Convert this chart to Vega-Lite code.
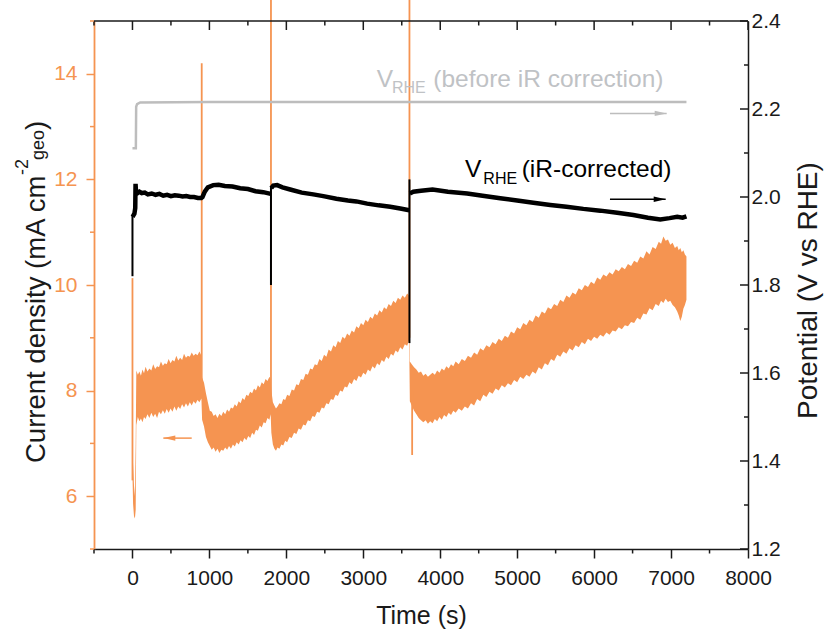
{
  "$schema": "https://vega.github.io/schema/vega-lite/v6.json",
  "width": 654,
  "height": 528,
  "autosize": {"type": "none"},
  "padding": {"left": 94, "top": 21, "right": 79, "bottom": 81},
  "config": {
    "view": {"stroke": null},
    "font": "Liberation Sans",
    "axis": {"grid": false, "labelFont": "Liberation Sans", "titleFont": "Liberation Sans", "titleFontWeight": "normal", "domainWidth": 1.5, "tickWidth": 1.5, "labelFlush": false, "labelOverlap": false, "labelBound": false}
  },
  "datasets": {
    "current": [
      {"t": 0, "lo": 6.4, "hi": 6.9}, {"t": 8, "lo": 5.85, "hi": 6.6}, {"t": 20, "lo": 5.62, "hi": 6.2},
      {"t": 32, "lo": 5.58, "hi": 6.0}, {"t": 42, "lo": 5.75, "hi": 7.0}, {"t": 50, "lo": 7.35, "hi": 8.38},
      {"t": 70, "lo": 7.5, "hi": 8.3}, {"t": 90, "lo": 7.42, "hi": 8.36}, {"t": 110, "lo": 7.47, "hi": 8.28},
      {"t": 130, "lo": 7.4, "hi": 8.4}, {"t": 150, "lo": 7.5, "hi": 8.33}, {"t": 170, "lo": 7.46, "hi": 8.45},
      {"t": 195, "lo": 7.55, "hi": 8.36}, {"t": 220, "lo": 7.48, "hi": 8.42}, {"t": 245, "lo": 7.58, "hi": 8.38},
      {"t": 270, "lo": 7.5, "hi": 8.5}, {"t": 295, "lo": 7.56, "hi": 8.41}, {"t": 320, "lo": 7.48, "hi": 8.46},
      {"t": 345, "lo": 7.6, "hi": 8.44}, {"t": 370, "lo": 7.55, "hi": 8.55}, {"t": 395, "lo": 7.63, "hi": 8.47},
      {"t": 420, "lo": 7.56, "hi": 8.52}, {"t": 445, "lo": 7.65, "hi": 8.5}, {"t": 470, "lo": 7.58, "hi": 8.6},
      {"t": 495, "lo": 7.66, "hi": 8.52}, {"t": 520, "lo": 7.6, "hi": 8.58}, {"t": 545, "lo": 7.7, "hi": 8.55},
      {"t": 570, "lo": 7.62, "hi": 8.66}, {"t": 595, "lo": 7.7, "hi": 8.57}, {"t": 620, "lo": 7.65, "hi": 8.62},
      {"t": 645, "lo": 7.74, "hi": 8.58}, {"t": 670, "lo": 7.68, "hi": 8.7}, {"t": 695, "lo": 7.76, "hi": 8.62},
      {"t": 720, "lo": 7.7, "hi": 8.66}, {"t": 745, "lo": 7.78, "hi": 8.64}, {"t": 770, "lo": 7.72, "hi": 8.72},
      {"t": 795, "lo": 7.8, "hi": 8.66}, {"t": 820, "lo": 7.75, "hi": 8.7}, {"t": 845, "lo": 7.82, "hi": 8.67},
      {"t": 870, "lo": 7.78, "hi": 8.74}, {"t": 896, "lo": 7.85, "hi": 8.66},
      {"t": 905, "lo": 7.45, "hi": 8.25}, {"t": 930, "lo": 7.32, "hi": 8.15}, {"t": 955, "lo": 7.12, "hi": 7.95},
      {"t": 980, "lo": 7.02, "hi": 7.78}, {"t": 1005, "lo": 6.95, "hi": 7.62}, {"t": 1030, "lo": 6.88, "hi": 7.6},
      {"t": 1055, "lo": 6.92, "hi": 7.52}, {"t": 1080, "lo": 6.84, "hi": 7.55}, {"t": 1105, "lo": 6.9, "hi": 7.48},
      {"t": 1130, "lo": 6.82, "hi": 7.56}, {"t": 1155, "lo": 6.88, "hi": 7.52}, {"t": 1180, "lo": 6.86, "hi": 7.6},
      {"t": 1205, "lo": 6.92, "hi": 7.55}, {"t": 1230, "lo": 6.88, "hi": 7.64}, {"t": 1255, "lo": 6.95, "hi": 7.6},
      {"t": 1280, "lo": 6.9, "hi": 7.68}, {"t": 1305, "lo": 6.98, "hi": 7.66}, {"t": 1330, "lo": 6.94, "hi": 7.74},
      {"t": 1355, "lo": 7.02, "hi": 7.7}, {"t": 1380, "lo": 6.98, "hi": 7.8}, {"t": 1405, "lo": 7.06, "hi": 7.76},
      {"t": 1430, "lo": 7.02, "hi": 7.86}, {"t": 1455, "lo": 7.1, "hi": 7.82}, {"t": 1480, "lo": 7.06, "hi": 7.92},
      {"t": 1505, "lo": 7.14, "hi": 7.9}, {"t": 1530, "lo": 7.1, "hi": 7.98}, {"t": 1555, "lo": 7.2, "hi": 7.95},
      {"t": 1580, "lo": 7.16, "hi": 8.04}, {"t": 1605, "lo": 7.26, "hi": 8.0}, {"t": 1630, "lo": 7.24, "hi": 8.1},
      {"t": 1655, "lo": 7.34, "hi": 8.06}, {"t": 1680, "lo": 7.3, "hi": 8.16}, {"t": 1705, "lo": 7.4, "hi": 8.12},
      {"t": 1730, "lo": 7.38, "hi": 8.22}, {"t": 1755, "lo": 7.48, "hi": 8.18}, {"t": 1780, "lo": 7.45, "hi": 8.26},
      {"t": 1796, "lo": 7.55, "hi": 8.22},
      {"t": 1805, "lo": 7.2, "hi": 8.0}, {"t": 1825, "lo": 6.98, "hi": 7.78}, {"t": 1845, "lo": 6.9, "hi": 7.72},
      {"t": 1865, "lo": 6.86, "hi": 7.66}, {"t": 1885, "lo": 6.92, "hi": 7.7}, {"t": 1910, "lo": 6.9, "hi": 7.76},
      {"t": 1935, "lo": 6.98, "hi": 7.74}, {"t": 1960, "lo": 6.96, "hi": 7.84}, {"t": 1985, "lo": 7.05, "hi": 7.82},
      {"t": 2010, "lo": 7.02, "hi": 7.92}, {"t": 2040, "lo": 7.12, "hi": 7.9}, {"t": 2070, "lo": 7.1, "hi": 8.02},
      {"t": 2100, "lo": 7.2, "hi": 8.0}, {"t": 2130, "lo": 7.18, "hi": 8.12}, {"t": 2160, "lo": 7.28, "hi": 8.1},
      {"t": 2190, "lo": 7.26, "hi": 8.22}, {"t": 2220, "lo": 7.36, "hi": 8.2}, {"t": 2250, "lo": 7.34, "hi": 8.32},
      {"t": 2280, "lo": 7.44, "hi": 8.3}, {"t": 2310, "lo": 7.42, "hi": 8.42}, {"t": 2340, "lo": 7.52, "hi": 8.4},
      {"t": 2370, "lo": 7.5, "hi": 8.5}, {"t": 2400, "lo": 7.6, "hi": 8.48}, {"t": 2430, "lo": 7.58, "hi": 8.6},
      {"t": 2460, "lo": 7.68, "hi": 8.56}, {"t": 2490, "lo": 7.66, "hi": 8.68}, {"t": 2520, "lo": 7.76, "hi": 8.64},
      {"t": 2550, "lo": 7.74, "hi": 8.78}, {"t": 2580, "lo": 7.84, "hi": 8.74}, {"t": 2610, "lo": 7.82, "hi": 8.86},
      {"t": 2640, "lo": 7.92, "hi": 8.82}, {"t": 2670, "lo": 7.9, "hi": 8.94}, {"t": 2700, "lo": 8.0, "hi": 8.9},
      {"t": 2730, "lo": 7.98, "hi": 9.02}, {"t": 2760, "lo": 8.08, "hi": 8.98}, {"t": 2790, "lo": 8.06, "hi": 9.08},
      {"t": 2820, "lo": 8.16, "hi": 9.04}, {"t": 2850, "lo": 8.12, "hi": 9.14}, {"t": 2880, "lo": 8.22, "hi": 9.1},
      {"t": 2910, "lo": 8.18, "hi": 9.22}, {"t": 2940, "lo": 8.28, "hi": 9.18}, {"t": 2970, "lo": 8.25, "hi": 9.28},
      {"t": 3000, "lo": 8.34, "hi": 9.24}, {"t": 3030, "lo": 8.3, "hi": 9.34}, {"t": 3060, "lo": 8.4, "hi": 9.3},
      {"t": 3090, "lo": 8.36, "hi": 9.4}, {"t": 3120, "lo": 8.46, "hi": 9.36}, {"t": 3150, "lo": 8.42, "hi": 9.46},
      {"t": 3180, "lo": 8.52, "hi": 9.42}, {"t": 3210, "lo": 8.48, "hi": 9.52}, {"t": 3240, "lo": 8.58, "hi": 9.48},
      {"t": 3270, "lo": 8.54, "hi": 9.58}, {"t": 3300, "lo": 8.64, "hi": 9.54}, {"t": 3330, "lo": 8.6, "hi": 9.64},
      {"t": 3360, "lo": 8.7, "hi": 9.6}, {"t": 3390, "lo": 8.66, "hi": 9.7}, {"t": 3420, "lo": 8.76, "hi": 9.66},
      {"t": 3450, "lo": 8.72, "hi": 9.76}, {"t": 3480, "lo": 8.82, "hi": 9.72}, {"t": 3510, "lo": 8.78, "hi": 9.8},
      {"t": 3540, "lo": 8.88, "hi": 9.76}, {"t": 3570, "lo": 8.85, "hi": 9.84}, {"t": 3596, "lo": 8.95, "hi": 9.8},
      {"t": 3605, "lo": 7.8, "hi": 8.55}, {"t": 3630, "lo": 7.72, "hi": 8.5}, {"t": 3660, "lo": 7.62, "hi": 8.44},
      {"t": 3690, "lo": 7.55, "hi": 8.4}, {"t": 3720, "lo": 7.48, "hi": 8.34}, {"t": 3750, "lo": 7.44, "hi": 8.36},
      {"t": 3780, "lo": 7.4, "hi": 8.28}, {"t": 3810, "lo": 7.44, "hi": 8.32}, {"t": 3840, "lo": 7.37, "hi": 8.26},
      {"t": 3870, "lo": 7.42, "hi": 8.3}, {"t": 3900, "lo": 7.38, "hi": 8.34}, {"t": 3930, "lo": 7.46, "hi": 8.3},
      {"t": 3960, "lo": 7.42, "hi": 8.38}, {"t": 3990, "lo": 7.5, "hi": 8.34}, {"t": 4020, "lo": 7.45, "hi": 8.42},
      {"t": 4050, "lo": 7.54, "hi": 8.38}, {"t": 4080, "lo": 7.5, "hi": 8.46}, {"t": 4110, "lo": 7.58, "hi": 8.42},
      {"t": 4140, "lo": 7.54, "hi": 8.5}, {"t": 4170, "lo": 7.62, "hi": 8.46}, {"t": 4200, "lo": 7.58, "hi": 8.55},
      {"t": 4240, "lo": 7.66, "hi": 8.5}, {"t": 4280, "lo": 7.62, "hi": 8.6}, {"t": 4320, "lo": 7.7, "hi": 8.56},
      {"t": 4360, "lo": 7.66, "hi": 8.66}, {"t": 4400, "lo": 7.76, "hi": 8.62}, {"t": 4440, "lo": 7.72, "hi": 8.72},
      {"t": 4480, "lo": 7.84, "hi": 8.68}, {"t": 4520, "lo": 7.8, "hi": 8.8}, {"t": 4560, "lo": 7.92, "hi": 8.76},
      {"t": 4600, "lo": 7.88, "hi": 8.86}, {"t": 4640, "lo": 7.98, "hi": 8.82}, {"t": 4680, "lo": 7.94, "hi": 8.92},
      {"t": 4720, "lo": 8.04, "hi": 8.88}, {"t": 4760, "lo": 8.0, "hi": 8.98}, {"t": 4800, "lo": 8.1, "hi": 8.94},
      {"t": 4840, "lo": 8.06, "hi": 9.04}, {"t": 4880, "lo": 8.14, "hi": 9.0}, {"t": 4920, "lo": 8.1, "hi": 9.12},
      {"t": 4960, "lo": 8.2, "hi": 9.08}, {"t": 5000, "lo": 8.16, "hi": 9.2}, {"t": 5040, "lo": 8.26, "hi": 9.16},
      {"t": 5080, "lo": 8.22, "hi": 9.28}, {"t": 5120, "lo": 8.3, "hi": 9.24}, {"t": 5160, "lo": 8.26, "hi": 9.34},
      {"t": 5200, "lo": 8.36, "hi": 9.3}, {"t": 5240, "lo": 8.32, "hi": 9.42}, {"t": 5280, "lo": 8.44, "hi": 9.38},
      {"t": 5320, "lo": 8.4, "hi": 9.5}, {"t": 5360, "lo": 8.52, "hi": 9.46}, {"t": 5400, "lo": 8.48, "hi": 9.58},
      {"t": 5440, "lo": 8.6, "hi": 9.54}, {"t": 5480, "lo": 8.56, "hi": 9.64}, {"t": 5520, "lo": 8.68, "hi": 9.6},
      {"t": 5560, "lo": 8.64, "hi": 9.72}, {"t": 5600, "lo": 8.74, "hi": 9.68}, {"t": 5640, "lo": 8.7, "hi": 9.8},
      {"t": 5680, "lo": 8.8, "hi": 9.76}, {"t": 5720, "lo": 8.76, "hi": 9.86}, {"t": 5760, "lo": 8.86, "hi": 9.82},
      {"t": 5800, "lo": 8.82, "hi": 9.94}, {"t": 5840, "lo": 8.92, "hi": 9.9}, {"t": 5880, "lo": 8.88, "hi": 10.0},
      {"t": 5920, "lo": 8.98, "hi": 9.96}, {"t": 5960, "lo": 8.94, "hi": 10.06}, {"t": 6000, "lo": 9.02, "hi": 10.02},
      {"t": 6040, "lo": 8.98, "hi": 10.14}, {"t": 6080, "lo": 9.06, "hi": 10.1}, {"t": 6120, "lo": 9.02, "hi": 10.2},
      {"t": 6160, "lo": 9.1, "hi": 10.16}, {"t": 6200, "lo": 9.06, "hi": 10.24}, {"t": 6240, "lo": 9.14, "hi": 10.2},
      {"t": 6280, "lo": 9.12, "hi": 10.3}, {"t": 6320, "lo": 9.2, "hi": 10.26}, {"t": 6360, "lo": 9.16, "hi": 10.34},
      {"t": 6400, "lo": 9.24, "hi": 10.3}, {"t": 6440, "lo": 9.22, "hi": 10.4}, {"t": 6480, "lo": 9.3, "hi": 10.36},
      {"t": 6520, "lo": 9.28, "hi": 10.46}, {"t": 6560, "lo": 9.38, "hi": 10.42}, {"t": 6600, "lo": 9.34, "hi": 10.54},
      {"t": 6640, "lo": 9.46, "hi": 10.5}, {"t": 6680, "lo": 9.44, "hi": 10.64}, {"t": 6720, "lo": 9.56, "hi": 10.58},
      {"t": 6760, "lo": 9.52, "hi": 10.72}, {"t": 6800, "lo": 9.64, "hi": 10.68}, {"t": 6840, "lo": 9.6, "hi": 10.82},
      {"t": 6870, "lo": 9.7, "hi": 10.78}, {"t": 6900, "lo": 9.66, "hi": 10.92}, {"t": 6930, "lo": 9.74, "hi": 10.84},
      {"t": 6960, "lo": 9.68, "hi": 10.86}, {"t": 6990, "lo": 9.7, "hi": 10.76}, {"t": 7020, "lo": 9.62, "hi": 10.8},
      {"t": 7050, "lo": 9.58, "hi": 10.7}, {"t": 7080, "lo": 9.5, "hi": 10.74}, {"t": 7100, "lo": 9.42, "hi": 10.66},
      {"t": 7120, "lo": 9.32, "hi": 10.7}, {"t": 7140, "lo": 9.4, "hi": 10.62}, {"t": 7160, "lo": 9.55, "hi": 10.66},
      {"t": 7180, "lo": 9.62, "hi": 10.58}, {"t": 7200, "lo": 9.72, "hi": 10.54}
    ],
    "spikes": [
      {"t": 0, "lo": 6.3, "hi": 10.13},
      {"t": 900, "lo": 8.0, "hi": 14.2},
      {"t": 1800, "lo": 7.8, "hi": 15.4},
      {"t": 3600, "lo": 9.0, "hi": 15.4},
      {"t": 3635, "lo": 6.78, "hi": 8.0}
    ],
    "corrected": [
      {"seg": 1, "t": 2, "v": 1.955}, {"seg": 1, "t": 12, "v": 1.958}, {"seg": 1, "t": 25, "v": 1.962},
      {"seg": 1, "t": 36, "v": 1.975}, {"seg": 1, "t": 40, "v": 2.03}, {"seg": 1, "t": 46, "v": 2.012},
      {"seg": 1, "t": 60, "v": 2.008}, {"seg": 1, "t": 90, "v": 2.012}, {"seg": 1, "t": 120, "v": 2.009},
      {"seg": 1, "t": 160, "v": 2.01}, {"seg": 1, "t": 200, "v": 2.006}, {"seg": 1, "t": 250, "v": 2.008},
      {"seg": 1, "t": 300, "v": 2.005}, {"seg": 1, "t": 350, "v": 2.007}, {"seg": 1, "t": 400, "v": 2.003},
      {"seg": 1, "t": 450, "v": 2.005}, {"seg": 1, "t": 500, "v": 2.002}, {"seg": 1, "t": 550, "v": 2.004},
      {"seg": 1, "t": 600, "v": 2.003}, {"seg": 1, "t": 650, "v": 2.001}, {"seg": 1, "t": 700, "v": 2.002},
      {"seg": 1, "t": 750, "v": 2.0}, {"seg": 1, "t": 800, "v": 2.0}, {"seg": 1, "t": 850, "v": 1.998},
      {"seg": 1, "t": 895, "v": 1.998}, {"seg": 1, "t": 910, "v": 2.0}, {"seg": 1, "t": 940, "v": 2.012},
      {"seg": 1, "t": 980, "v": 2.022}, {"seg": 1, "t": 1050, "v": 2.027}, {"seg": 1, "t": 1120, "v": 2.028},
      {"seg": 1, "t": 1200, "v": 2.025}, {"seg": 1, "t": 1300, "v": 2.024}, {"seg": 1, "t": 1400, "v": 2.02},
      {"seg": 1, "t": 1500, "v": 2.018}, {"seg": 1, "t": 1600, "v": 2.013}, {"seg": 1, "t": 1700, "v": 2.011},
      {"seg": 1, "t": 1797, "v": 2.007},
      {"seg": 2, "t": 1803, "v": 2.02}, {"seg": 2, "t": 1830, "v": 2.026}, {"seg": 2, "t": 1880, "v": 2.027},
      {"seg": 2, "t": 1950, "v": 2.022}, {"seg": 2, "t": 2050, "v": 2.017}, {"seg": 2, "t": 2200, "v": 2.01},
      {"seg": 2, "t": 2350, "v": 2.006}, {"seg": 2, "t": 2480, "v": 2.002}, {"seg": 2, "t": 2650, "v": 1.996},
      {"seg": 2, "t": 2800, "v": 1.992}, {"seg": 2, "t": 2910, "v": 1.99}, {"seg": 2, "t": 3050, "v": 1.985},
      {"seg": 2, "t": 3200, "v": 1.981}, {"seg": 2, "t": 3350, "v": 1.978}, {"seg": 2, "t": 3480, "v": 1.974},
      {"seg": 2, "t": 3597, "v": 1.97},
      {"seg": 3, "t": 3604, "v": 2.008}, {"seg": 3, "t": 3650, "v": 2.012}, {"seg": 3, "t": 3750, "v": 2.014},
      {"seg": 3, "t": 3900, "v": 2.017}, {"seg": 3, "t": 4100, "v": 2.012}, {"seg": 3, "t": 4350, "v": 2.008},
      {"seg": 3, "t": 4550, "v": 2.003}, {"seg": 3, "t": 4780, "v": 1.997}, {"seg": 3, "t": 5000, "v": 1.992},
      {"seg": 3, "t": 5210, "v": 1.987}, {"seg": 3, "t": 5430, "v": 1.982}, {"seg": 3, "t": 5640, "v": 1.978},
      {"seg": 3, "t": 5860, "v": 1.973}, {"seg": 3, "t": 6080, "v": 1.969}, {"seg": 3, "t": 6300, "v": 1.964},
      {"seg": 3, "t": 6510, "v": 1.959}, {"seg": 3, "t": 6700, "v": 1.953}, {"seg": 3, "t": 6860, "v": 1.949},
      {"seg": 3, "t": 6980, "v": 1.952}, {"seg": 3, "t": 7080, "v": 1.955}, {"seg": 3, "t": 7150, "v": 1.953},
      {"seg": 3, "t": 7200, "v": 1.956}
    ],
    "blackSpikes": [
      {"t": 0, "lo": 1.82, "hi": 1.958},
      {"t": 1800, "lo": 1.8, "hi": 2.025},
      {"t": 3600, "lo": 1.668, "hi": 2.04}
    ],
    "raw": [
      {"t": 0, "v": 2.111}, {"t": 44, "v": 2.111}, {"t": 48, "v": 2.205}, {"t": 60, "v": 2.211},
      {"t": 100, "v": 2.215}, {"t": 1000, "v": 2.216}, {"t": 7200, "v": 2.216}
    ],
    "xMajor": [{"t": 0}, {"t": 1000}, {"t": 2000}, {"t": 3000}, {"t": 4000}, {"t": 5000}, {"t": 6000}, {"t": 7000}, {"t": 8000}],
    "xMinor": [{"t": -500}, {"t": 500}, {"t": 1500}, {"t": 2500}, {"t": 3500}, {"t": 4500}, {"t": 5500}, {"t": 6500}, {"t": 7500}],
    "jMinor": [{"j": 5}, {"j": 7}, {"j": 9}, {"j": 11}, {"j": 13}, {"j": 15}],
    "rightMajor": [{"j": 5}, {"j": 6.6667}, {"j": 8.3333}, {"j": 10}, {"j": 11.6667}, {"j": 13.3333}, {"j": 15}],
    "rightMinor": [{"j": 5.8333}, {"j": 7.5}, {"j": 9.1667}, {"j": 10.8333}, {"j": 12.5}, {"j": 14.1667}],
    "frame": [{"t1": -500, "t2": 8000, "j": 15}],
    "arrowLeft": [{"t1": 401, "t2": 770, "j": 7.1, "head": 479}],
    "arrowGray": [{"t1": 6206, "t2": 6943, "v": 2.19, "head": 6865}],
    "arrowBlack": [{"t1": 6206, "t2": 6930, "v": 1.995, "head": 6852}],
    "titleBig": [
      {"txt": "Current density (mA cm", "t": -1137, "j": 6.629},
      {"txt": ")", "t": -1137, "j": 12.936}
    ],
    "titleSup": [{"txt": "-2", "t": -1358, "j": 12.083}],
    "titleSub": [{"txt": "geo", "t": -1150, "j": 12.367}],
    "grayBig": [
      {"txt": "V", "t": 3174, "v": 2.251},
      {"txt": "(before iR correction)", "t": 3910, "v": 2.251}
    ],
    "graySmall": [{"txt": "RHE", "t": 3373, "v": 2.236}],
    "blackBig": [
      {"txt": "V", "t": 4322, "v": 2.046},
      {"txt": "(iR-corrected)", "t": 5059, "v": 2.046}
    ],
    "blackSmall": [{"txt": "RHE", "t": 4560, "v": 2.03}]
  },
  "resolve": {"scale": {"y": "independent"}},
  "layer": [
    {
      "layer": [
        {
          "data": {"name": "current"},
          "mark": {"type": "area", "color": "#F59451", "opacity": 1},
          "encoding": {
            "x": {"field": "t", "type": "quantitative",
              "scale": {"domain": [-500, 8000], "nice": false, "zero": false},
              "axis": {"orient": "bottom",
                "values": [0, 1000, 2000, 3000, 4000, 5000, 6000, 7000, 8000],
                "format": "d", "tickSize": 9,
                "labelPadding": 9.5, "labelFontSize": 21, "labelColor": "#1a1a1a",
                "domainColor": "#1a1a1a", "tickColor": "#1a1a1a",
                "title": "Time (s)", "titleFontSize": 25, "titleColor": "#1a1a1a",
                "titleX": 327, "titleY": 74, "titleBaseline": "alphabetic", "titleAlign": "center"}},
            "y": {"field": "lo", "type": "quantitative",
              "scale": {"domain": [5, 15], "nice": false, "zero": false},
              "axis": {"orient": "left",
                "values": [6, 8, 10, 12, 14], "tickSize": 8,
                "labelPadding": 9, "labelFontSize": 21, "labelColor": "#F59451",
                "domainColor": "#F59451", "domainWidth": 1.8, "tickColor": "#F59451", "title": null}},
            "y2": {"field": "hi"}
          }
        },
        {
          "data": {"name": "spikes"},
          "mark": {"type": "rule", "color": "#F59451", "strokeWidth": 1.8},
          "encoding": {
            "x": {"field": "t", "type": "quantitative"},
            "y": {"field": "lo", "type": "quantitative"},
            "y2": {"field": "hi"}
          }
        },
        {
          "data": {"name": "frame"},
          "mark": {"type": "rule", "color": "#1a1a1a", "strokeWidth": 1.5},
          "encoding": {
            "x": {"field": "t1", "type": "quantitative"},
            "x2": {"field": "t2"},
            "y": {"field": "j", "type": "quantitative"}
          }
        },
        {
          "data": {"name": "xMajor"},
          "mark": {"type": "rule", "color": "#1a1a1a", "strokeWidth": 1.5},
          "encoding": {
            "x": {"field": "t", "type": "quantitative"},
            "y": {"datum": 15, "type": "quantitative"},
            "y2": {"datum": 14.83}
          }
        },
        {
          "data": {"name": "xMinor"},
          "mark": {"type": "rule", "color": "#1a1a1a", "strokeWidth": 1.5},
          "encoding": {
            "x": {"field": "t", "type": "quantitative"},
            "y": {"datum": 15, "type": "quantitative"},
            "y2": {"datum": 14.915}
          }
        },
        {
          "data": {"name": "rightMajor"},
          "mark": {"type": "rule", "color": "#1a1a1a", "strokeWidth": 1.5},
          "encoding": {
            "y": {"field": "j", "type": "quantitative"},
            "x": {"datum": 8000, "type": "quantitative"},
            "x2": {"datum": 7896}
          }
        },
        {
          "data": {"name": "rightMinor"},
          "mark": {"type": "rule", "color": "#1a1a1a", "strokeWidth": 1.5},
          "encoding": {
            "y": {"field": "j", "type": "quantitative"},
            "x": {"datum": 8000, "type": "quantitative"},
            "x2": {"datum": 7948}
          }
        },
        {
          "data": {"name": "xMinor"},
          "mark": {"type": "rule", "color": "#1a1a1a", "strokeWidth": 1.5},
          "encoding": {
            "x": {"field": "t", "type": "quantitative"},
            "y": {"datum": 5, "type": "quantitative"},
            "y2": {"datum": 4.915}
          }
        },
        {
          "data": {"name": "jMinor"},
          "mark": {"type": "rule", "color": "#F59451", "strokeWidth": 1.5},
          "encoding": {
            "y": {"field": "j", "type": "quantitative"},
            "x": {"datum": -500, "type": "quantitative"},
            "x2": {"datum": -552}
          }
        },
        {
          "data": {"name": "arrowLeft"},
          "mark": {"type": "rule", "color": "#F59451", "strokeWidth": 1.5},
          "encoding": {
            "x": {"field": "t1", "type": "quantitative"},
            "x2": {"field": "t2"},
            "y": {"field": "j", "type": "quantitative"}
          }
        },
        {
          "data": {"name": "arrowLeft"},
          "mark": {"type": "point", "shape": "M1,-0.45L-1,0L1,0.45Z", "filled": true, "color": "#F59451", "size": 144, "opacity": 1},
          "encoding": {
            "x": {"field": "head", "type": "quantitative"},
            "y": {"field": "j", "type": "quantitative"}
          }
        },
        {
          "data": {"name": "titleBig"},
          "mark": {"type": "text", "angle": 270, "align": "left", "baseline": "alphabetic", "fontSize": 27.5, "color": "#1a1a1a", "font": "Liberation Sans"},
          "encoding": {
            "x": {"field": "t", "type": "quantitative"},
            "y": {"field": "j", "type": "quantitative"},
            "text": {"field": "txt"}
          }
        },
        {
          "data": {"name": "titleSup"},
          "mark": {"type": "text", "angle": 270, "align": "left", "baseline": "alphabetic", "fontSize": 18, "color": "#1a1a1a", "font": "Liberation Sans"},
          "encoding": {
            "x": {"field": "t", "type": "quantitative"},
            "y": {"field": "j", "type": "quantitative"},
            "text": {"field": "txt"}
          }
        },
        {
          "data": {"name": "titleSub"},
          "mark": {"type": "text", "angle": 270, "align": "left", "baseline": "alphabetic", "fontSize": 18, "color": "#1a1a1a", "font": "Liberation Sans"},
          "encoding": {
            "x": {"field": "t", "type": "quantitative"},
            "y": {"field": "j", "type": "quantitative"},
            "text": {"field": "txt"}
          }
        }
      ]
    },
    {
      "layer": [
        {
          "data": {"name": "raw"},
          "mark": {"type": "line", "color": "#BDBDBD", "strokeWidth": 2.5},
          "encoding": {
            "x": {"field": "t", "type": "quantitative"},
            "y": {"field": "v", "type": "quantitative",
              "scale": {"domain": [1.2, 2.4], "nice": false, "zero": false},
              "axis": {"orient": "right",
                "values": [1.2, 1.4, 1.6, 1.8, 2.0, 2.2, 2.4],
                "format": ".1f", "ticks": false,
                "labelPadding": 3, "labelFontSize": 21, "labelColor": "#1a1a1a",
                "domainColor": "#1a1a1a",
                "title": "Potential (V vs RHE)", "titleFontSize": 28, "titleColor": "#1a1a1a",
                "titleAngle": 270, "titleX": 68, "titleY": 269, "titleAlign": "center", "titleBaseline": "alphabetic"}}
          }
        },
        {
          "data": {"name": "corrected"},
          "mark": {"type": "line", "color": "#000000", "strokeWidth": 4.5},
          "encoding": {
            "x": {"field": "t", "type": "quantitative"},
            "y": {"field": "v", "type": "quantitative"},
            "detail": {"field": "seg", "type": "nominal"}
          }
        },
        {
          "data": {"name": "blackSpikes"},
          "mark": {"type": "rule", "color": "#000000", "strokeWidth": 2},
          "encoding": {
            "x": {"field": "t", "type": "quantitative"},
            "y": {"field": "lo", "type": "quantitative"},
            "y2": {"field": "hi"}
          }
        },
        {
          "data": {"name": "arrowGray"},
          "mark": {"type": "rule", "color": "#BDBDBD", "strokeWidth": 1.5},
          "encoding": {
            "x": {"field": "t1", "type": "quantitative"},
            "x2": {"field": "t2"},
            "y": {"field": "v", "type": "quantitative"}
          }
        },
        {
          "data": {"name": "arrowGray"},
          "mark": {"type": "point", "shape": "M-1,-0.45L1,0L-1,0.45Z", "filled": true, "color": "#BDBDBD", "size": 144, "opacity": 1},
          "encoding": {
            "x": {"field": "head", "type": "quantitative"},
            "y": {"field": "v", "type": "quantitative"}
          }
        },
        {
          "data": {"name": "arrowBlack"},
          "mark": {"type": "rule", "color": "#000000", "strokeWidth": 1.5},
          "encoding": {
            "x": {"field": "t1", "type": "quantitative"},
            "x2": {"field": "t2"},
            "y": {"field": "v", "type": "quantitative"}
          }
        },
        {
          "data": {"name": "arrowBlack"},
          "mark": {"type": "point", "shape": "M-1,-0.45L1,0L-1,0.45Z", "filled": true, "color": "#000000", "size": 144, "opacity": 1},
          "encoding": {
            "x": {"field": "head", "type": "quantitative"},
            "y": {"field": "v", "type": "quantitative"}
          }
        },
        {
          "data": {"name": "grayBig"},
          "mark": {"type": "text", "align": "left", "baseline": "alphabetic", "fontSize": 24.5, "color": "#BFC2C5", "font": "Liberation Sans"},
          "encoding": {
            "x": {"field": "t", "type": "quantitative"},
            "y": {"field": "v", "type": "quantitative"},
            "text": {"field": "txt"}
          }
        },
        {
          "data": {"name": "graySmall"},
          "mark": {"type": "text", "align": "left", "baseline": "alphabetic", "fontSize": 16, "color": "#BFC2C5", "font": "Liberation Sans"},
          "encoding": {
            "x": {"field": "t", "type": "quantitative"},
            "y": {"field": "v", "type": "quantitative"},
            "text": {"field": "txt"}
          }
        },
        {
          "data": {"name": "blackBig"},
          "mark": {"type": "text", "align": "left", "baseline": "alphabetic", "fontSize": 24.5, "color": "#000000", "font": "Liberation Sans"},
          "encoding": {
            "x": {"field": "t", "type": "quantitative"},
            "y": {"field": "v", "type": "quantitative"},
            "text": {"field": "txt"}
          }
        },
        {
          "data": {"name": "blackSmall"},
          "mark": {"type": "text", "align": "left", "baseline": "alphabetic", "fontSize": 16, "color": "#000000", "font": "Liberation Sans"},
          "encoding": {
            "x": {"field": "t", "type": "quantitative"},
            "y": {"field": "v", "type": "quantitative"},
            "text": {"field": "txt"}
          }
        }
      ]
    }
  ]
}
